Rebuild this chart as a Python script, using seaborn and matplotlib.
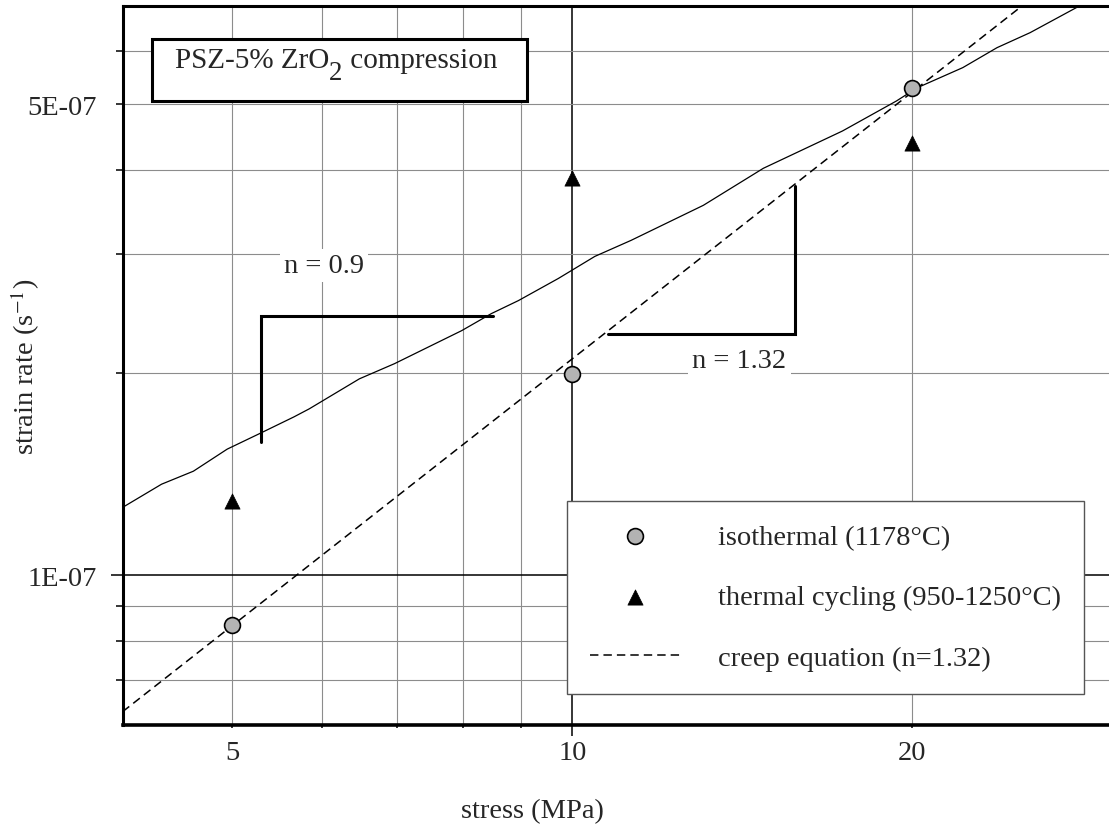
import numpy as np
import pandas as pd
import matplotlib.pyplot as plt
import seaborn as sns
from matplotlib.patches import Rectangle
from matplotlib.ticker import NullFormatter

# isothermal creep tests (stress in MPa, strain rate in 1/s)
iso_stress = [5, 10, 20]
iso_rate = [8.45e-8, 1.99e-7, 5.29e-7]

# thermal cycling tests
cyc_stress = [5, 10, 20]
cyc_rate = [1.29e-7, 3.89e-7, 4.38e-7]

# creep equation n=1.32, end points
creep_stress = [4.0, 25.0]
creep_rate = [6.28e-8, 7.0e-7]

# hand drawn curve through the cycling data
fit_stress = [4.0, 4.33, 4.62, 4.95, 5.28, 5.67, 5.85, 6.48, 6.96, 7.50, 7.98, 8.48,
              8.96, 9.72, 10.47, 11.27, 13.06, 14.76, 17.34, 19.36, 20.18, 22.16,
              23.76, 25.42, 28.15]
fit_rate = [1.262e-7, 1.366e-7, 1.428e-7, 1.54e-7, 1.622e-7, 1.719e-7, 1.767e-7,
            1.958e-7, 2.062e-7, 2.193e-7, 2.308e-7, 2.447e-7, 2.558e-7, 2.759e-7,
            2.975e-7, 3.142e-7, 3.542e-7, 4.02e-7, 4.566e-7, 5.06e-7, 5.29e-7,
            5.67e-7, 6.07e-7, 6.39e-7, 7.01e-7]

# slope brackets
br09_x = [5.30, 5.30, 8.51]
br09_y = [1.578e-7, 2.427e-7, 2.427e-7]
br132_x = [10.76, 15.74, 15.74]
br132_y = [2.279e-7, 2.279e-7, 3.78e-7]

# axis ticks
x_major = [5, 10, 20]
x_major_labels = ["5", "10", "20"]
x_minor = [6, 7, 8, 9]
y_major = [1e-7, 5e-7]
y_major_labels = ["1E-07", "5E-07"]
y_minor = [7e-8, 8e-8, 9e-8, 2e-7, 3e-7, 4e-7, 6e-7]

sns.set_theme(style="ticks")
plt.rcParams['font.family'] = ['Liberation Serif', 'DejaVu Serif']
plt.rcParams['mathtext.fontset'] = 'stix'
FS = 20.5
W, H = 1109, 828

fig = plt.figure(figsize=(W / 100, H / 100), dpi=100)
ax = fig.add_axes([0.1106, 0.1232, 0.8916, 0.8684])
ax.set(xscale='log', yscale='log')

sns.lineplot(x=fit_stress, y=fit_rate, sort=False, estimator=None,
             color='black', lw=0.9, ax=ax, zorder=3)
for bx, by in [(br09_x, br09_y), (br132_x, br132_y)]:
    sns.lineplot(x=bx, y=by, sort=False, estimator=None, color='black',
                 lw=2.2, ax=ax, zorder=3, solid_joinstyle='miter')

sns.scatterplot(x=iso_stress, y=iso_rate, marker='o', s=130, color='#b3b3b3',
                edgecolor='black', linewidth=1.2, label='isothermal (1178°C)',
                zorder=5, ax=ax)
sns.scatterplot(x=cyc_stress, y=cyc_rate, marker='^', s=120, color='black',
                edgecolor='black', linewidth=0.5,
                label='thermal cycling (950-1250°C)', zorder=5, ax=ax)
sns.lineplot(x=creep_stress, y=creep_rate, color='black', lw=1.1,
             linestyle=(0, (5.5, 3.3)), label='creep equation (n=1.32)',
             ax=ax, zorder=3)

ax.set_xlim(4, 30)
ax.set_ylim(6e-8, 7e-7)

ax.set_xticks(x_major)
ax.set_xticklabels(x_major_labels)
ax.set_xticks(x_minor, minor=True)
ax.xaxis.set_minor_formatter(NullFormatter())
ax.set_yticks(y_major)
ax.set_yticklabels(y_major_labels)
ax.set_yticks(y_minor, minor=True)
ax.yaxis.set_minor_formatter(NullFormatter())

ax.tick_params(axis='x', which='major', length=8, width=1.1, pad=3,
               labelsize=FS, color='black')
ax.tick_params(axis='x', which='minor', length=2.5, width=1.1, color='black')
ax.tick_params(axis='y', which='major', length=8.6, width=1.1, pad=10,
               labelsize=FS, color='black')
ax.tick_params(axis='y', which='minor', length=5, width=1.1, color='black')

ax.grid(True, which='both', color='#8c8c8c', lw=0.8)
ax.set_axisbelow(True)

for s in ['left', 'top']:
    ax.spines[s].set_linewidth(2.2)
    ax.spines[s].set_color('black')
ax.spines['bottom'].set_linewidth(2.6)
ax.spines['bottom'].set_color('black')
ax.spines['right'].set_visible(False)

ax.set_xlabel('stress (MPa)', fontsize=FS)
ax.set_ylabel('strain rate (s$^{-1}$)', fontsize=FS)
ax.xaxis.set_label_coords(0.414, -0.102)
ax.yaxis.set_label_coords(-0.082, 0.5)

ax.text(6.03, 2.884e-7, 'n = 0.9', fontsize=FS, ha='center', va='center',
        zorder=4, bbox=dict(facecolor='white', edgecolor='none', pad=3))
ax.text(14.06, 2.083e-7, 'n = 1.32', fontsize=FS, ha='center', va='center',
        zorder=4, bbox=dict(facecolor='white', edgecolor='none', pad=3))

# title box, the subscript 2 is nearly full size in the original
ax.add_patch(Rectangle((152 / W, 1 - 102 / H), 375 / W, 62 / H,
                       transform=fig.transFigure, facecolor='white',
                       edgecolor='black', lw=2.2, clip_on=False, zorder=6))
renderer = fig.canvas.get_renderer()
tfs = 21
base = 1 - 68 / H
x0 = 175 / W
for part, dy, size in [('PSZ-5% ZrO', 0, tfs), ('2', -12 / H, tfs * 0.92),
                       (' compression', 0, tfs)]:
    t = ax.text(x0, base + dy, part, fontsize=size, ha='left', va='baseline',
                transform=fig.transFigure, zorder=7)
    x0 = t.get_window_extent(renderer).x1 / W

handles, labels = ax.get_legend_handles_labels()
leg = ax.legend(handles, labels, loc='upper left',
                bbox_to_anchor=(567 / W, 1 - 502 / H),
                bbox_transform=fig.transFigure, borderaxespad=0,
                fontsize=FS, frameon=True, fancybox=False, framealpha=1,
                edgecolor='#555555', borderpad=0.8, handlelength=3.2,
                handletextpad=1.3, labelspacing=1.22)
leg.get_frame().set_linewidth(1.0)
leg.set_zorder(8)

# only 10 and 1E-07 carry the long ticks and dark grid lines
for loc, t in zip(ax.get_xticks(), ax.xaxis.get_major_ticks()):
    if abs(loc - 10) < 1e-9:
        t.gridline.set_color('black')
        t.gridline.set_linewidth(1.1)
    else:
        t.tick1line.set_markersize(2.5)
for loc, t in zip(ax.get_yticks(), ax.yaxis.get_major_ticks()):
    if abs(loc - 1e-7) < 1e-15:
        t.gridline.set_color('black')
        t.gridline.set_linewidth(1.1)
    else:
        t.tick1line.set_markersize(5)

fig.savefig('out.png', dpi=100)
